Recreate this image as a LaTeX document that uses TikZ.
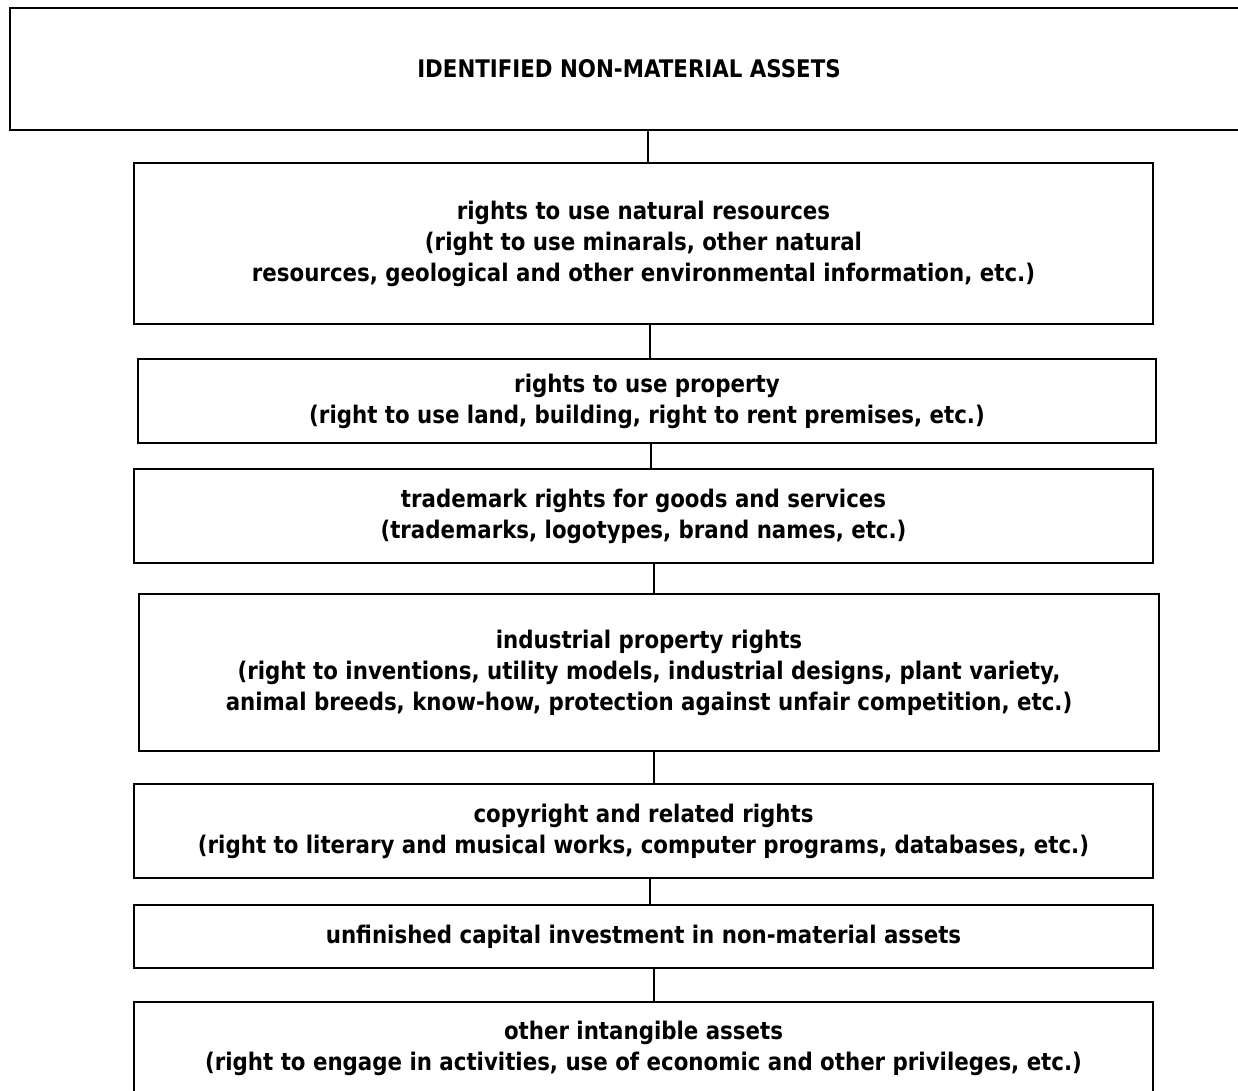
\documentclass[tikz,border=0pt]{standalone}
\usepackage{fontspec}
\setmainfont{DejaVu Sans}[FakeStretch=0.88]
\usetikzlibrary{positioning}

\tikzset{
  assetbox/.style 2 args={draw, line width=1.1pt, align=center,
    font=\fontsize{13.8}{17.6}\selectfont\bfseries, inner sep=0pt,
    minimum width=#1*0.02cm, minimum height=#2*0.02cm},
  link/.style={line width=1.1pt}
}

\begin{document}
\begin{tikzpicture}[x=0.02cm, y=-0.02cm]

  \useasboundingbox (0,0) rectangle (1238,1090);

  % --- Boxes (pixel grid, y downwards) ---
  \node[assetbox={1238}{122}] (b1) at (629,69)
    {IDENTIFIED NON-MATERIAL ASSETS};
  \node[assetbox={1019}{161}] (b2) at (643.5,243.5)
    {rights to use natural resources\\
     (right to use minarals, other natural\\
     resources, geological and other environmental information, etc.)};
  \node[assetbox={1018}{84}] (b3) at (647,401)
    {rights to use property\\
     (right to use land, building, right to rent premises, etc.)};
  \node[assetbox={1019}{94}] (b4) at (643.5,516)
    {trademark rights for goods and services\\
     (trademarks, logotypes, brand names, etc.)};
  \node[assetbox={1020}{157}] (b5) at (649,672.5)
    {industrial property rights\\
     (right to inventions, utility models, industrial designs, plant variety,\\
     animal breeds, know-how, protection against unfair competition, etc.)};
  \node[assetbox={1019}{94}] (b6) at (643.5,831)
    {copyright and related rights\\
     (right to literary and musical works, computer programs, databases, etc.)};
  \node[assetbox={1019}{63}] (b7) at (643.5,936.5)
    {unfinished capital investment in non-material assets};
  \node[assetbox={1019}{92}] (b8) at (643.5,1048)
    {other intangible assets\\
     (right to engage in activities, use of economic and other privileges, etc.)};

  % --- Connectors ---
  \foreach \a/\b/\cx in {b1/b2/648, b2/b3/650, b3/b4/651, b4/b5/654,
                         b5/b6/654, b6/b7/650, b7/b8/654}{
    \draw[link] (\a.south -| \cx,0) -- (\b.north -| \cx,0);
  }

\end{tikzpicture}
\end{document}
